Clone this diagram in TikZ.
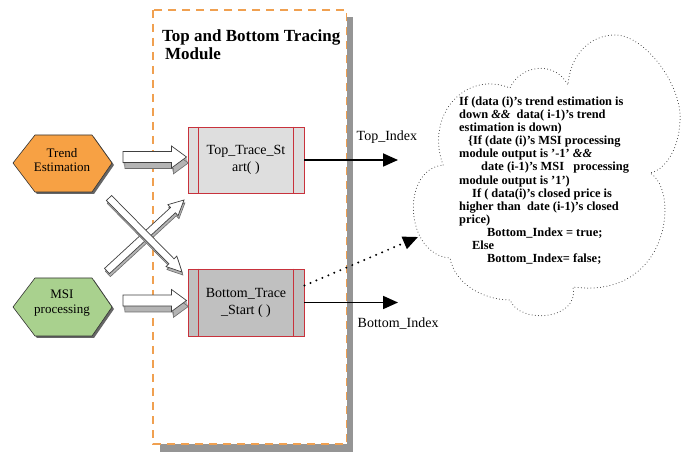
\documentclass[tikz,border=0pt]{standalone}
\usepackage{fontspec}
\setmainfont{Liberation Serif}
\usetikzlibrary{calc,arrows.meta}

\definecolor{modorange}{HTML}{F0A050}
\definecolor{hexorange}{HTML}{F7A144}
\definecolor{hexgreen}{HTML}{A9D18E}
\definecolor{boxred}{HTML}{C8323C}
\definecolor{shadowgray}{HTML}{959595}
\definecolor{topfill}{HTML}{DEDEDE}
\definecolor{botfill}{HTML}{C0C0C0}
\definecolor{arrowside}{HTML}{B4B4B4}
\definecolor{cloudline}{HTML}{303030}

% block arrow outline: #1 start, #2 tip, #3 shaft half width, #4 head half width, #5 head length
\newcommand\bapath[5]{($(#1)!#3!90:(#2)$) -- ($(#2)!#5!(#1)!#3!-90:(#1)$) -- ($(#2)!#5!(#1)!#4!-90:(#1)$) -- (#2) -- ($(#2)!#5!(#1)!#4!90:(#1)$) -- ($(#2)!#5!(#1)!#3!90:(#1)$) -- ($(#1)!#3!-90:(#2)$) -- cycle}
% 3D block arrow: #6 depth in pt
\newcommand\blockarrow[6]{%
  \foreach \k in {1,...,#6}{\fill[arrowside,transform canvas={shift={(0.3*\k,\k)}}] \bapath{#1}{#2}{#3}{#4}{#5};}
  \draw[arrowside!60!black,line width=0.6pt,transform canvas={shift={(0.3*#6,#6)}}] \bapath{#1}{#2}{#3}{#4}{#5};
  \filldraw[fill=white,draw=black!75,line width=0.7pt] \bapath{#1}{#2}{#3}{#4}{#5};
}

\tikzset{
  module/.style={draw=modorange,line width=1.3pt,dash pattern=on 8pt off 6pt,fill=white},
  hexlabel/.style={align=center,font=\rmfamily\fontsize{13}{14.7}\selectfont,inner sep=0pt},
  procbox/.style={draw=boxred,line width=0.9pt,minimum width=116pt,align=center,
    font=\rmfamily\fontsize{14}{17}\selectfont,inner sep=0pt},
  outarrow/.style={line width=1.8pt,-{Triangle[length=15pt,width=13pt]}},
  dotarrow/.style={line width=2.2pt,line cap=round,dash pattern=on 0pt off 6.5pt,
    -{Triangle[length=15pt,width=13pt]}},
  idxlabel/.style={font=\rmfamily\fontsize{14}{16}\selectfont,inner sep=0pt,anchor=west},
  cloudedge/.style={draw=cloudline,line width=1pt,line cap=round,dash pattern=on 0pt off 3.2pt},
  cloudtext/.style={align=left,font=\rmfamily\bfseries\fontsize{12.4}{13.1}\selectfont,inner sep=0pt}
}

\begin{document}
\begin{tikzpicture}[x=1pt,y=-1pt]
\useasboundingbox (0,0) rectangle (691,454);

% module frame with shadow
\fill[shadowgray] (160,17) rectangle (353,452);
\path[module] (153,10) rectangle (346.5,444);
\node[align=left,anchor=north west,inner sep=0pt,font=\rmfamily\bfseries\fontsize{17}{17.5}\selectfont]
  (title) at (162,30) {Top and Bottom Tracing\\\hspace*{3pt}Module};

% hexagons
\fill[black!60] (15,165) -- (37,137) -- (94,137) -- (114,165) -- (94,194) -- (37,194) -- cycle;
\filldraw[fill=hexorange,draw=black!80,line width=0.6pt]
  (13,163) -- (35,135) -- (92,135) -- (112,163) -- (92,192) -- (35,192) -- cycle;
\node[hexlabel] (trend) at (62,160) {Trend\\Estimation};

\fill[black!60] (15,309) -- (37,280) -- (94,280) -- (114,309) -- (94,338) -- (37,338) -- cycle;
\filldraw[fill=hexgreen,draw=black!80,line width=0.6pt]
  (13,307) -- (35,278) -- (92,278) -- (112,307) -- (92,336) -- (35,336) -- cycle;
\node[hexlabel] (msi) at (62,303) {MSI\\processing};

% processing boxes
\node[procbox,fill=topfill,minimum height=66pt] (top) at (246,160) {Top\_Trace\_St\\art( )};
\draw[boxred,line width=0.9pt] ([xshift=11pt]top.north west) -- ([xshift=11pt]top.south west)
  ([xshift=-11pt]top.north east) -- ([xshift=-11pt]top.south east);
\node[procbox,fill=botfill,minimum height=67pt] (bot) at (246,302.5) {Bottom\_Trace\\\_Start ( )};
\draw[boxred,line width=0.9pt] ([xshift=11pt]bot.north west) -- ([xshift=11pt]bot.south west)
  ([xshift=-11pt]bot.north east) -- ([xshift=-11pt]bot.south east);

% block arrows
\coordinate (ha1) at (123,157);  \coordinate (hb1) at (186.5,157);
\coordinate (ha2) at (123,300.5); \coordinate (hb2) at (186.5,300.5);
\coordinate (da1) at (109,198);  \coordinate (db1) at (182,272);
\coordinate (da2) at (107,271);  \coordinate (db2) at (184,200);
\blockarrow{ha1}{hb1}{5.5pt}{11pt}{15pt}{6}
\blockarrow{ha2}{hb2}{5.5pt}{11pt}{15pt}{6}
\blockarrow{da2}{db2}{3.6pt}{7.5pt}{15pt}{3}
\blockarrow{da1}{db1}{3.6pt}{7.5pt}{15pt}{3}

% outputs
\coordinate (topend) at (398,160);
\coordinate (botend) at (398,302.5);
\draw[outarrow] (top.east) -- (topend);
\draw[outarrow] (bot.east) -- (botend);
\node[idxlabel] (topidx) at (356.5,137) {Top\_Index};
\node[idxlabel] (botidx) at (357.5,324) {Bottom\_Index};

% cloud
\coordinate (c1) at (443,165);
\coordinate (c2) at (510,88);
\coordinate (c3) at (568,85);
\coordinate (c4) at (650,173);
\coordinate (c5) at (573,287);
\coordinate (c6) at (510,300);
\coordinate (c7) at (450,258);
\path[cloudedge]
  (c1) .. controls (425,115) and (465,70) .. (c2)
  .. controls (520,65) and (555,60) .. (c3)
  .. controls (570,55) and (590,35) .. (615,35)
  .. controls (645,35) and (682,85) .. (680,120)
  .. controls (679,150) and (665,170) .. (c4)
  .. controls (680,190) and (670,300) .. (c5)
  .. controls (580,320) and (520,325) .. (c6)
  .. controls (485,300) and (455,285) .. (c7)
  .. controls (405,255) and (400,170) .. (c1);
\coordinate (cloudtip) at (418,237);
\draw[dotarrow] ($(bot.north east)!0.25!(bot.south east)$) -- (cloudtip);

\node[cloudtext,anchor=north west] (cond) at (459,96.5) {If (data (i)'s trend estimation is\\
down \textit{\&\&}\ \ data( i-1)'s trend\\
estimation is down)\\
\hspace*{9pt}\{If (date (i)'s MSI processing\\
module output is '-1' \textit{\&\&}\\
\hspace*{22pt}date (i-1)'s MSI\ \ \ processing\\
module output is '1')\\
\hspace*{13pt}If ( data(i)'s closed price is\\
higher than\ \ date (i-1)'s closed\\
price)\\
\hspace*{28pt}Bottom\_Index = true;\\
\hspace*{13pt}Else\\
\hspace*{28pt}Bottom\_Index= false;};
\end{tikzpicture}
\end{document}
